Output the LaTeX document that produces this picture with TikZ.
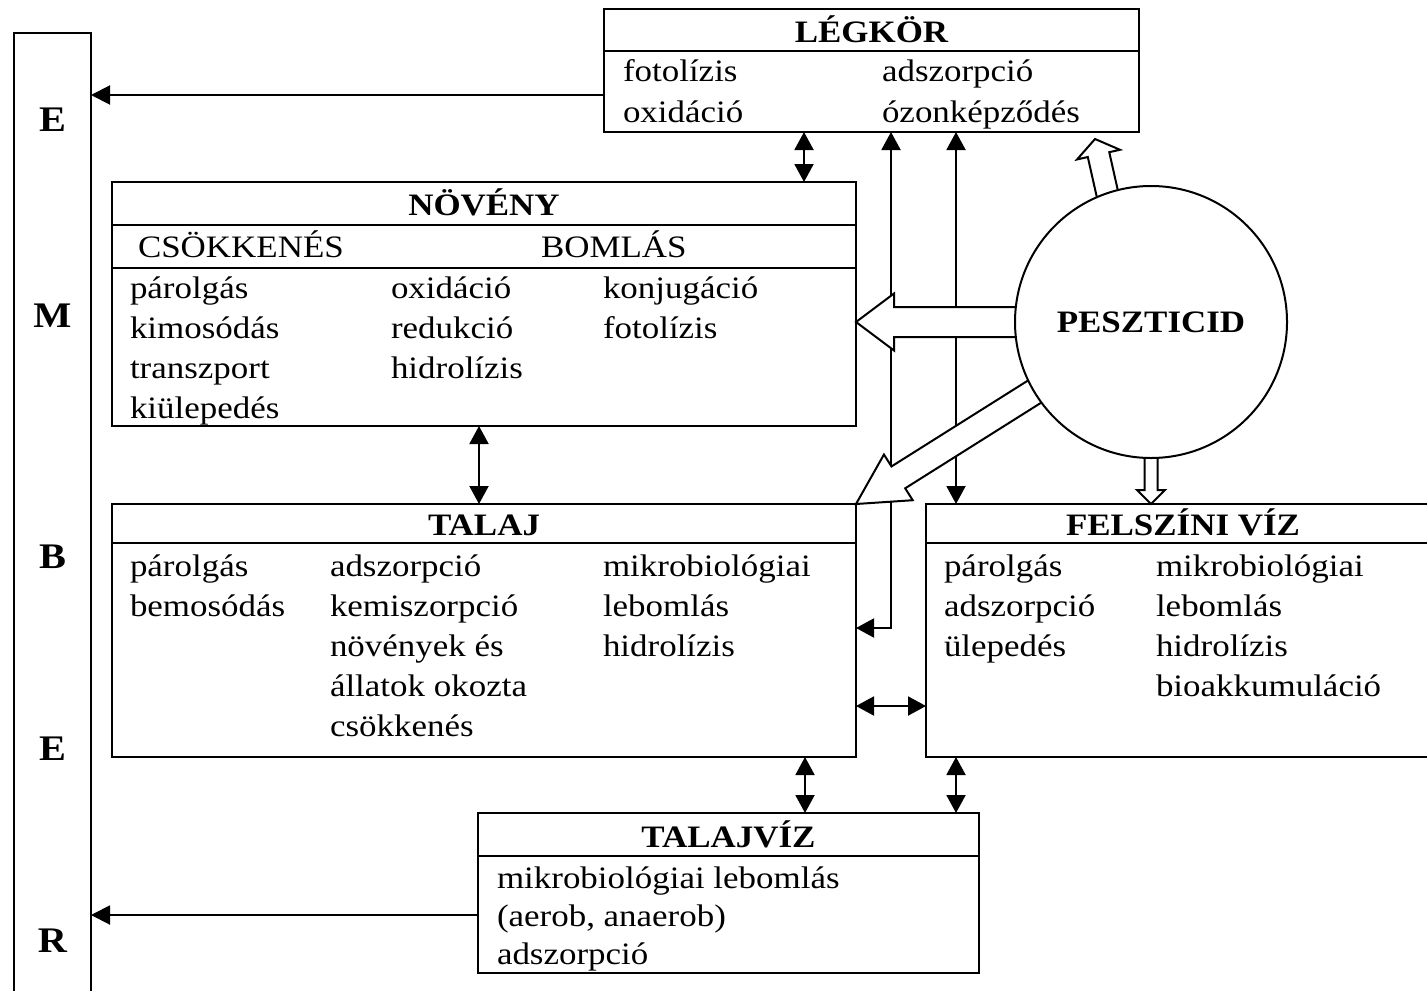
\documentclass[tikz,border=0pt]{standalone}
\usepackage{fontspec}
\setmainfont{Liberation Serif}[FakeStretch=1.12]
\usetikzlibrary{arrows.meta,calc}
\pgfdeclarelayer{bg}
\pgfsetlayers{bg,main}
\newcommand\hollowarrow[5]{%
  \coordinate (ha-base) at ($(#2)!#5!(#1)$);
  \draw[hollow] ($(#1)!#3!90:(#2)$) -- ($(ha-base)!#3!-90:(#1)$) -- ($(ha-base)!#4!-90:(#1)$) -- (#2)
     -- ($(ha-base)!#4!90:(#1)$) -- ($(ha-base)!#3!90:(#1)$) -- ($(#1)!#3!-90:(#2)$) -- cycle;
}
\newcommand\txtcol[5]{%
  \foreach \t [count=\i from 0] in {#4} {\node[txt] (#1\i) at (#2,{#3+#5*\i}) {\t};}%
}
\begin{document}
\begin{tikzpicture}[x=0.5pt,y=-0.5pt,
  every node/.style={inner sep=0pt, outer sep=0pt},
  box/.style={draw, line width=1pt, rectangle, anchor=north west},
  sep/.style={line width=1pt},
  txt/.style={anchor=base west, font=\fontsize{15.6}{20}\selectfont},
  ttl/.style={anchor=base, font=\fontsize{15.6}{20}\selectfont\bfseries},
  big/.style={anchor=base, font=\fontsize{18}{20}\selectfont\bfseries},
  arr/.style={line width=1pt, -{Triangle[length=9.5pt,width=9.5pt]}},
  darr/.style={line width=1pt, {Triangle[length=9pt,width=9.5pt]}-{Triangle[length=9pt,width=9.5pt]}},
  hollow/.style={draw, fill=white, line width=1pt, line join=miter}
]
\useasboundingbox (0,0) rectangle (1427,990);

% boxes
\node[box, minimum width=267.5pt, minimum height=61.5pt] (legkor) at (604,9) {};
\node[box, minimum width=372pt, minimum height=122pt] (noveny) at (112,182) {};
\node[box, minimum width=372pt, minimum height=126.5pt] (talaj) at (112,504) {};
\node[box, minimum width=257pt, minimum height=126.5pt] (felszini) at (926,504) {};
\node[box, minimum width=250.5pt, minimum height=80pt] (talajviz) at (478,813) {};
\node[box, minimum width=38.5pt, minimum height=490pt] (ember) at (14,33) {};

% dividers
\draw[sep] (legkor.west |- 0,51) -- (legkor.east |- 0,51);
\draw[sep] (noveny.west |- 0,225) -- (noveny.east |- 0,225);
\draw[sep] (noveny.west |- 0,268) -- (noveny.east |- 0,268);
\draw[sep] (talaj.west |- 0,543) -- (talaj.east |- 0,543);
\draw[sep] (felszini.west |- 0,543) -- (felszini.east |- 0,543);
\draw[sep] (talajviz.west |- 0,856) -- (talajviz.east |- 0,856);

% titles
\node[ttl] (legkorT) at (legkor.north |- 0,43) {LÉGKÖR};
\node[ttl] (novenyT) at (noveny.north |- 0,215) {NÖVÉNY};
\node[txt] (csokk) at (138,257) {CSÖKKENÉS};
\node[txt] (bomlas) at (541,257) {BOMLÁS};
\node[ttl] (talajT) at (talaj.north |- 0,535) {TALAJ};
\node[ttl] (felszT) at (felszini.north |- 0,535) {FELSZÍNI VÍZ};
\node[ttl] (tvT) at (talajviz.north |- 0,847) {TALAJVÍZ};

% body texts
\txtcol{la}{623}{82}{fotolízis,oxidáció}{40}
\txtcol{lb}{882}{82}{adszorpció,ózonképződés}{40}
\txtcol{na}{130}{298}{párolgás,kimosódás,transzport,kiülepedés}{40}
\txtcol{nb}{391}{298}{oxidáció,redukció,hidrolízis}{40}
\txtcol{nc}{603}{298}{konjugáció,fotolízis}{40}
\txtcol{ta}{130}{576}{párolgás,bemosódás}{40}
\txtcol{tb}{330}{576}{adszorpció,kemiszorpció,növények és,állatok okozta,csökkenés}{40}
\txtcol{tc}{603}{576}{mikrobiológiai,lebomlás,hidrolízis}{40}
\txtcol{fa}{944}{576}{párolgás,adszorpció,ülepedés}{40}
\txtcol{fb}{1156}{576}{mikrobiológiai,lebomlás,hidrolízis,bioakkumuláció}{40}
\txtcol{va}{497}{888}{mikrobiológiai lebomlás,{(aerob, anaerob)},adszorpció}{38}

% EMBER
\node[big] (e1) at (ember.center |- 0,132) {E};
\node[big] (e2) at (ember.center |- 0,327) {M};
\node[big] (e3) at (ember.center |- 0,568) {B};
\node[big] (e4) at (ember.center |- 0,760) {E};
\node[big] (e5) at (ember.center |- 0,952) {R};

% pesticide circle
\node[draw, circle, fill=white, line width=1pt, minimum size=136pt,
      font=\fontsize{15.6}{20}\selectfont\bfseries] (pesz) at (1151,322) {PESZTICID};

\begin{pgfonlayer}{bg}
  \draw[arr] (legkor.west |- 0,95) -- (ember.east |- 0,95);
  \draw[arr] (talajviz.west |- 0,915) -- (ember.east |- 0,915);
  \draw[darr] (legkor.south -| 804,0) -- (noveny.north -| 804,0);
  \draw[darr] (noveny.south -| 479,0) -- (talaj.north -| 479,0);
  \draw[darr] (talaj.south -| 805,0) -- (talajviz.north -| 805,0);
  \draw[darr] (felszini.south -| 956,0) -- (talajviz.north -| 956,0);
  \draw[darr] (talaj.east |- 0,706) -- (felszini.west |- 0,706);
  \draw[darr] (talaj.east |- 0,628) -| (legkor.south -| 891,0);
  \draw[darr] (legkor.south -| 956,0) -- (felszini.north -| 956,0);

  \coordinate (lA) at (pesz.center);
  \coordinate (lB) at (noveny.east |- pesz.center);
  \hollowarrow{lA}{lB}{7.5pt}{14.25pt}{19pt}
  \coordinate (uA) at (1120,250);
  \coordinate (uB) at (1095,139);
  \hollowarrow{uA}{uB}{5.5pt}{11pt}{8pt}
  \coordinate (dA) at (pesz.center);
  \coordinate (dB) at (pesz.south |- felszini.north);
  \hollowarrow{dA}{dB}{3.25pt}{7pt}{7pt}
  \coordinate (gA) at (1080,363);
  \coordinate (gB) at (talaj.north east);
  \hollowarrow{gA}{gB}{6.45pt}{13.5pt}{25pt}
\end{pgfonlayer}
\end{tikzpicture}
\end{document}
